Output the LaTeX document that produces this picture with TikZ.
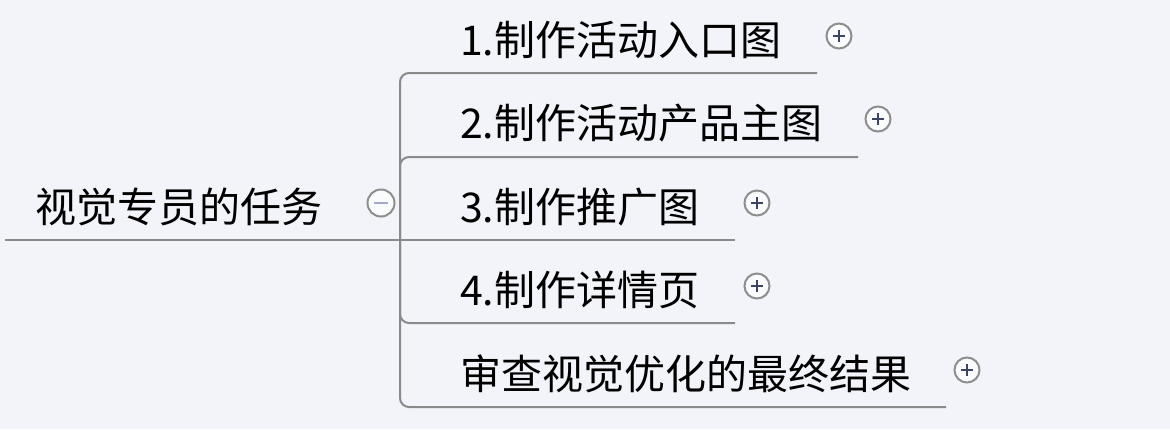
\documentclass[tikz,border=0pt]{standalone}
\usepackage{fontspec}
\newfontfamily\cjk{Noto Sans CJK SC}
\definecolor{bg}{HTML}{F3F4F9}
\definecolor{ln}{HTML}{8A8A8A}
\definecolor{circ}{HTML}{8E8E8E}
\definecolor{sign}{HTML}{3C4466}
\definecolor{minsign}{HTML}{A3AACB}
\begin{document}
\begin{tikzpicture}[x=1pt,y=-1pt,
  topic/.style={anchor=west, inner sep=0pt, font=\cjk\fontsize{41}{45}\selectfont, text=black},
  conn/.style={draw=ln, line width=2pt, rounded corners=9pt},
  toggle/.style={circle, draw=circ, line width=2pt, fill=white!60!bg, minimum size=25pt, inner sep=0pt},
  plusbtn/.style={toggle, path picture={
      \draw[sign, line width=2pt] ([xshift=-6pt]path picture bounding box.center) -- ([xshift=6pt]path picture bounding box.center);
      \draw[sign, line width=2pt] ([yshift=-6pt]path picture bounding box.center) -- ([yshift=6pt]path picture bounding box.center);}},
  minusbtn/.style={toggle, minimum size=27pt, path picture={
      \draw[minsign, line width=2.2pt] ([xshift=-7pt]path picture bounding box.center) -- ([xshift=7pt]path picture bounding box.center);}}
]
\fill[bg] (0,0) rectangle (1170,429);
\useasboundingbox (0,0) rectangle (1170,429);

% root
\node[topic] (root) at (35,207) {视觉专员的任务};
\coordinate (rootstart) at (5,240);
\coordinate (hub) at (400,240);
\draw[conn] (rootstart) -- (hub);
\node[minusbtn] (rootbtn) at (381,203) {};

% branches
\node[topic] (b1) at (460,40) {1.制作活动入口图};
\node[topic] (b2) at (460,123) {2.制作活动产品主图};
\node[topic] (b3) at (460,207) {3.制作推广图};
\node[topic] (b4) at (460,290) {4.制作详情页};
\node[topic] (b5) at (460,374) {审查视觉优化的最终结果};

\coordinate (e1) at (817,73);
\coordinate (e2) at (858,157);
\coordinate (e3) at (735,240);
\coordinate (e4) at (735,323);
\coordinate (e5) at (946,407);

\draw[conn] (hub) |- (e1);
\draw[conn] (hub) |- (e2);
\draw[conn] (hub) -- (e3);
\draw[conn] (hub) |- (e4);
\draw[conn] (hub) |- (e5);

\node[plusbtn] (p1) at (839,36) {};
\node[plusbtn] (p2) at (878,119) {};
\node[plusbtn] (p3) at (757,203) {};
\node[plusbtn] (p4) at (757,286) {};
\node[plusbtn] (p5) at (967,370) {};
\end{tikzpicture}
\end{document}
